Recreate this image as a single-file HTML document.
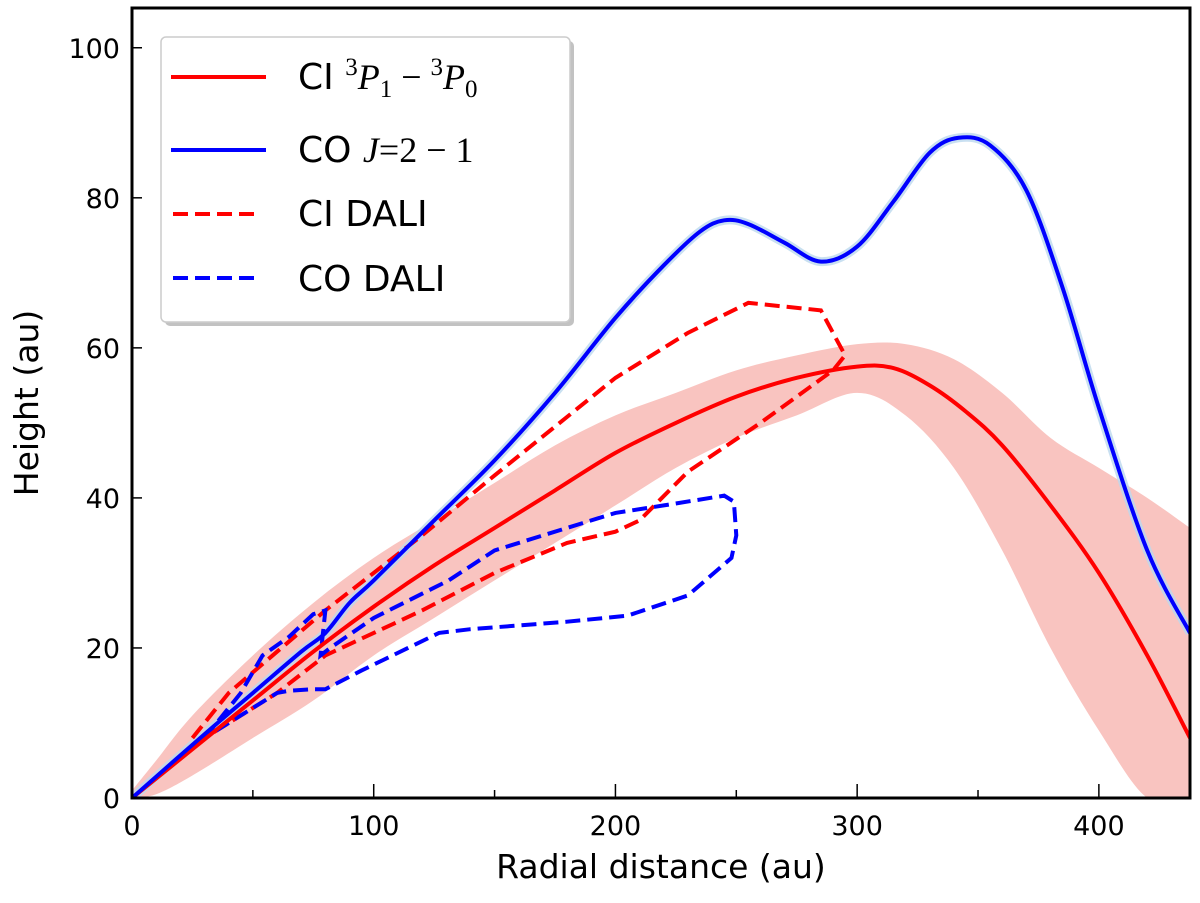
<!DOCTYPE html>
<html><head><meta charset="utf-8"><style>
body{margin:0;background:#fff}
text{font-family:"DejaVu Sans","Liberation Sans",sans-serif;fill:#000}
.m{font-family:"Liberation Serif","DejaVu Serif",serif}
</style></head><body>
<svg id="chart" width="1200" height="898" xmlns="http://www.w3.org/2000/svg">
<g id="plot"></g>
<g id="axes"></g>
<text x="661" y="878" text-anchor="middle" font-size="33">Radial distance (au)</text>
<text transform="translate(38,403) rotate(-90)" text-anchor="middle" font-size="33">Height (au)</text>
<g>
<rect x="165" y="41" width="409" height="285" rx="5" fill="#999" opacity="0.6"/>
<rect x="161" y="37" width="409" height="285" rx="5" fill="#fff" stroke="#ccc" stroke-width="1.5"/>
<line x1="171" y1="77" x2="266" y2="77" stroke="#f00" stroke-width="4"/>
<text x="298" y="89" font-size="36">CI <tspan class="m" font-size="25" dy="-14">3</tspan><tspan class="m" font-style="italic" dy="14">P</tspan><tspan class="m" font-size="25" dy="8">1</tspan><tspan class="m" dy="-8"> − </tspan><tspan class="m" font-size="25" dy="-14">3</tspan><tspan class="m" font-style="italic" dy="14">P</tspan><tspan class="m" font-size="25" dy="8">0</tspan></text>
<line x1="171" y1="150" x2="266" y2="150" stroke="#00f" stroke-width="4"/>
<text x="298" y="162" font-size="36">CO <tspan class="m" font-style="italic">J</tspan><tspan class="m">=2 − 1</tspan></text>
<line x1="173" y1="214" x2="260" y2="214" stroke="#f00" stroke-width="4" stroke-dasharray="15,7"/>
<text x="298" y="226" font-size="36">CI DALI</text>
<line x1="173" y1="278" x2="260" y2="278" stroke="#00f" stroke-width="4" stroke-dasharray="15,7"/>
<text x="298" y="291" font-size="36">CO DALI</text>
</g>
</svg>
<script>
const xMin=0,xMax=437.7,yMin=0,yMax=105.3;
const L=132,R=1190,T=8,B=798;
const ciX=[0,25,50,75,100,125,150,175,200,225,250,275,300,315,330,345,360,380,400,420,437.7];
const ciY=[0,6.5,13,19.5,25.5,31,36,41,46,50,53.5,56,57.5,57.3,55,51.5,47,39,30,19,8];
const ciBandX=[0,10,25,50,75,100,125,150,175,200,225,250,275,300,320,340,360,380,400,420,437.7];
const ciBandHi=[1,5,11,19,26,32,37,42,47,51,54,57,59,60.5,60.5,58.5,54,48,44,40,36];
const ciBandLo=[0,0.5,3,8,13,19,24,29,34,39,44,48,51,54,51,44,33,20,9,0,0];
const coX=[0,30,50,70,80,90,100,125,150,175,200,220,235,245,255,270,285,300,315,330,342,355,370,385,400,420,437.7];
const coY=[0,8.5,14,19.5,22,26,29,37,45,54,64,71,75.5,77,76.5,74,71.5,73.5,79.5,86,88,87,81,68,52,33,22];
const ciDaliX=[25,40,60,80,100,120,150,200,230,255,285,290,295,290,260,230,210,200,180,150,120,100,80,60,40,25];
const ciDaliY=[8,14,19.5,25,30,35,43,56,62,66,65,62,59,57,50,43.5,37,35.5,34,30,25,22,19,14,10,7];
const coDaliX=[30,45,54,65,75,80,78,82,100,131,150,180,200,220,245,249,250,248,230,205,180,140,127,95,80,75,65,60,45,30];
const coDaliY=[8,14,19,21.5,24.5,25,19,20,24,29,33,36,38,39,40.3,39.5,35,32,27,24.3,23.5,22.5,22,17,14.5,14.5,14.3,14,11,8];
const xTicks=[0,100,200,300,400],xMinor=[50,150,250,350];
const yTicks=[0,20,40,60,80,100];
const sx=v=>L+(v-xMin)/(xMax-xMin)*(R-L);
const sy=v=>B-(v-yMin)/(yMax-yMin)*(B-T);
const NS="http://www.w3.org/2000/svg";
const plot=document.getElementById('plot'),axes=document.getElementById('axes');
function mk(tag,attrs,parent){const e=document.createElementNS(NS,tag);for(const k in attrs)e.setAttribute(k,attrs[k]);parent.appendChild(e);return e;}
function smoothPts(p,start){let d=start?`M${p[0][0]},${p[0][1]}`:`L${p[0][0]},${p[0][1]}`;
for(let i=0;i<p.length-1;i++){const p0=p[Math.max(0,i-1)],p1=p[i],p2=p[i+1],p3=p[Math.min(p.length-1,i+2)];
d+=` C${p1[0]+(p2[0]-p0[0])/6},${p1[1]+(p2[1]-p0[1])/6} ${p2[0]-(p3[0]-p1[0])/6},${p2[1]-(p3[1]-p1[1])/6} ${p2[0]},${p2[1]}`;}return d;}
function smooth(xs,ys){return smoothPts(xs.map((x,i)=>[sx(x),sy(ys[i])]),true);}
function poly(xs,ys){return xs.map((x,i)=>(i?'L':'M')+sx(x)+','+sy(ys[i])).join(' ');}
const clip=mk('clipPath',{id:'pc'},plot);mk('rect',{x:L,y:T,width:R-L,height:B-T},clip);
const g=mk('g',{'clip-path':'url(#pc)'},plot);
const hiPts=ciBandX.map((x,i)=>[sx(x),sy(ciBandHi[i])]);
const loPts=ciBandX.map((x,i)=>[sx(x),sy(ciBandLo[i])]).reverse();
const bd=smoothPts(hiPts,true)+' '+smoothPts(loPts,false)+' Z';
const band=mk('path',{d:bd,fill:'#f9c4c0'},g);


const coBand=mk('path',{d:smooth(coX,coY),fill:'none',stroke:'#bcd8ee',opacity:'0.8','stroke-width':9},g);


const cid=mk('path',{d:poly(ciDaliX,ciDaliY),fill:'none',stroke:'#ff0000','stroke-width':4,'stroke-dasharray':'15,7'},g);


const cod=mk('path',{d:poly(coDaliX,coDaliY),fill:'none',stroke:'#0000ff','stroke-width':4,'stroke-dasharray':'15,7'},g);


const ci=mk('path',{d:smooth(ciX,ciY),fill:'none',stroke:'#ff0000','stroke-width':4},g);


const co=mk('path',{d:smooth(coX,coY),fill:'none',stroke:'#0000ff','stroke-width':4},g);


const fr=mk('rect',{x:L,y:T,width:R-L,height:B-T,fill:'none',stroke:'#000','stroke-width':3},axes);


xTicks.forEach(v=>{mk('line',{x1:sx(v),x2:sx(v),y1:B,y2:B-14,stroke:'#000','stroke-width':1.5},axes);
const t=mk('text',{x:sx(v),y:B+37,'text-anchor':'middle','font-size':27},axes);t.textContent=v;

});
xMinor.forEach(v=>mk('line',{x1:sx(v),x2:sx(v),y1:B,y2:B-8,stroke:'#000','stroke-width':1.5},axes));
yTicks.forEach(v=>{mk('line',{x1:L,x2:L+10,y1:sy(v),y2:sy(v),stroke:'#000','stroke-width':1.5},axes);
const t=mk('text',{x:L-12,y:sy(v)+10,'text-anchor':'end','font-size':27},axes);t.textContent=v;

});
</script>
</body></html>
